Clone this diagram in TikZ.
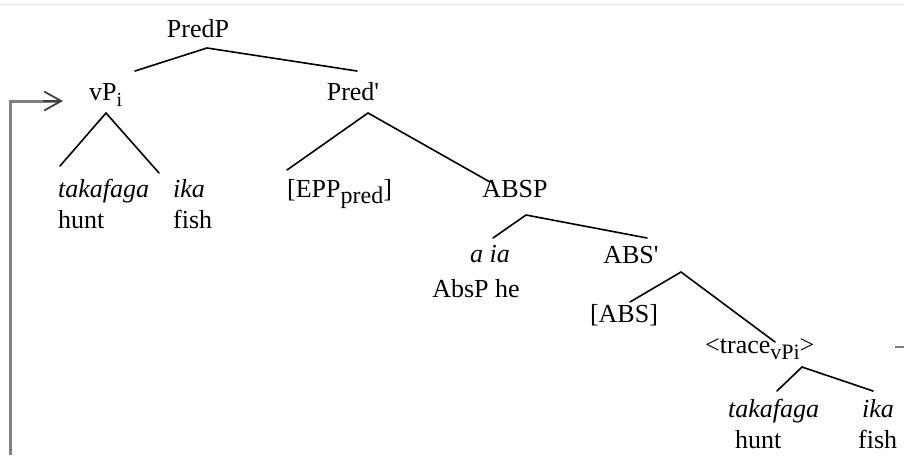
\documentclass[tikz,border=0pt]{standalone}
\usepackage{fontspec}
\setmainfont{Liberation Serif}[Ligatures=TeXOff]
\usetikzlibrary{arrows.meta}

% subscript lowered below the baseline
\newcommand{\lowsub}[2][22]{\raisebox{-6pt}{\fontsize{#1}{#1}\selectfont #2}}

\tikzset{
  lbl/.style={inner sep=0pt, anchor=base, font=\fontsize{26}{31}\selectfont},
  lblw/.style={lbl, anchor=base west},
  edge/.style={line width=1.6pt, black, line cap=round},
  movearrow/.style={line width=3pt, black!50},
  movetip/.style={-{Straight Barb[length=17pt,width=19pt,line width=1.8pt]}}
}

\begin{document}
\begin{tikzpicture}[x=1pt,y=-1pt]
  \useasboundingbox (0,0) rectangle (904,455);

  % thin rule along the top edge
  \coordinate (rule-l) at (0,4);
  \coordinate (rule-r) at (904,4);
  \draw[black!12, line width=1pt] (rule-l) -- (rule-r);

  % labels
  \node[lbl]  (predp)  at (198,37)  {PredP};
  \node[lblw] (vp)     at (89,100)  {vP\lowsub[20]{i}};
  \node[lbl]  (predb)  at (353,100) {Pred'};
  \node[lblw] (tak1)   at (58,197)  {\itshape takafaga};
  \node[lblw] (hunt1)  at (58,228)  {hunt};
  \node[lblw] (ika1)   at (173,197) {\itshape ika};
  \node[lblw] (fish1)  at (173,228) {fish};
  \node[lblw] (epp)    at (287,197) {[EPP\lowsub[24]{pred}]};
  \node[lbl]  (absp)   at (515,197) {ABSP};
  \node[lbl]  (aia)    at (490,262) {\itshape a ia};
  \node[lbl]  (absphe) at (476,297) {AbsP he};
  \node[lbl]  (absb)   at (631,263) {ABS'};
  \node[lbl]  (abs)    at (624,322) {[ABS]};
  \node[lblw] (trace)  at (705,353) {<trace\lowsub[22]{vPi}>};
  \node[lblw] (tak2)   at (728,417) {\itshape takafaga};
  \node[lblw] (hunt2)  at (735,448) {hunt};
  \node[lblw] (ika2)   at (862,417) {\itshape ika};
  \node[lblw] (fish2)  at (858,448) {fish};

  % branch points and branch ends
  \coordinate (predp-b) at (207,48);
  \coordinate (vp-t)    at (135,71);
  \coordinate (predb-t) at (357,71);
  \coordinate (vp-b)    at (106,113);
  \coordinate (tak1-t)  at (60,166);
  \coordinate (ika1-t)  at (159,173);
  \coordinate (predb-b) at (368,113);
  \coordinate (epp-t)   at (287,170);
  \coordinate (absp-t)  at (490,182);
  \coordinate (absp-b)  at (526,215);
  \coordinate (aia-t)   at (493,238);
  \coordinate (absb-t)  at (647,238);
  \coordinate (absb-b)  at (681,272);
  \coordinate (abs-t)   at (630,302);
  \coordinate (trace-t) at (775,342);
  \coordinate (trace-b) at (802,367);
  \coordinate (tak2-t)  at (777,391);
  \coordinate (ika2-t)  at (873,391);

  % tree branches
  \draw[edge] (vp-t) -- (predp-b) -- (predb-t);
  \draw[edge] (tak1-t) -- (vp-b) -- (ika1-t);
  \draw[edge] (epp-t) -- (predb-b) -- (absp-t);
  \draw[edge] (aia-t) -- (absp-b) -- (absb-t);
  \draw[edge] (abs-t) -- (absb-b) -- (trace-t);
  \draw[edge] (tak2-t) -- (trace-b) -- (ika2-t);

  % movement arrow from the trace back up to vP
  \coordinate (mv-start) at (10,455);
  \coordinate (mv-corner) at (10,101);
  \coordinate (mv-end) at (63,101);
  \draw[movearrow, line cap=butt] (mv-start) -- (mv-corner) -- ([xshift=-3pt]mv-end);
  \draw[black!75, line width=1.8pt, movetip] ([xshift=-20pt]mv-end) -- (mv-end);

  % start of the arrow leaving the trace on the right
  \coordinate (mv-out-a) at (895,347);
  \coordinate (mv-out-b) at (904,347);
  \draw[movearrow, line width=2.4pt] (mv-out-a) -- (mv-out-b);
\end{tikzpicture}
\end{document}
